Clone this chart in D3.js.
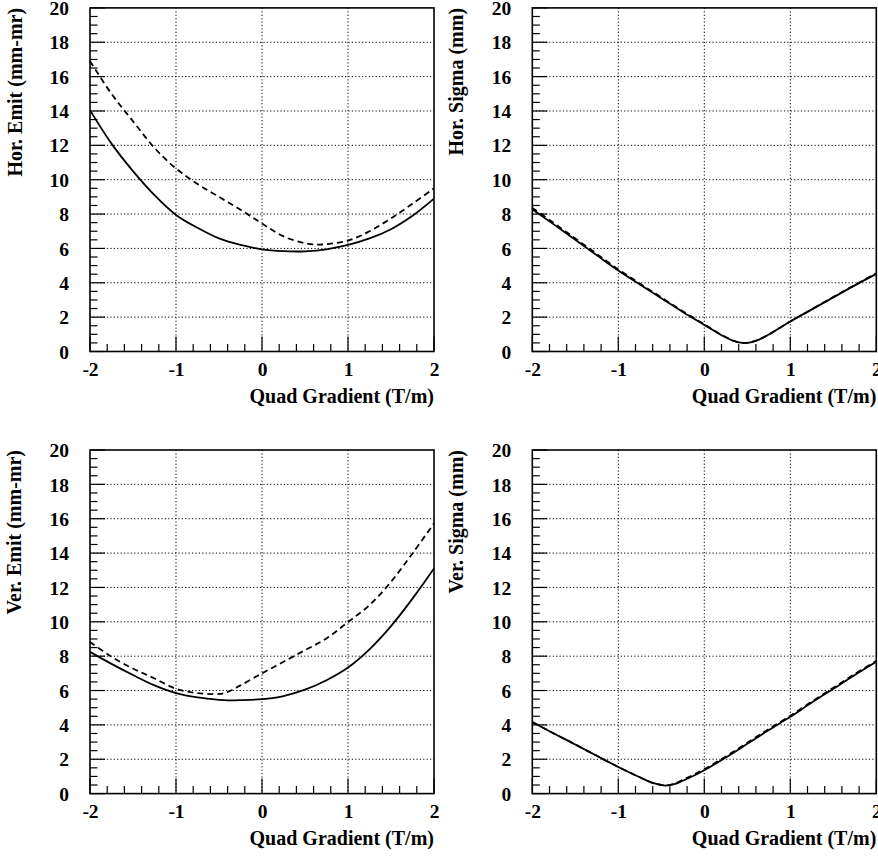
<!DOCTYPE html>
<html>
<head>
<meta charset="utf-8">
<script src="https://cdn.jsdelivr.net/npm/d3@7"></script>
<style>
  html, body { margin: 0; padding: 0; background: #fff; }
  svg { display: block; }
  text { font-family: "Liberation Serif", "Times New Roman", serif; font-weight: bold; fill: #000; }
</style>
</head>
<body>
<div id="chart"></div>
<script>
// ---------- data ----------
const xTicks = [-2, -1, 0, 1, 2];
const yTicks = [0, 2, 4, 6, 8, 10, 12, 14, 16, 18, 20];
const xTitle = "Quad Gradient (T/m)";

// Horizontal emittance (top-left)
const horEmitX      = [-2, -1.75, -1.5, -1.25, -1, -0.75, -0.5, -0.25, 0, 0.25, 0.4, 0.5, 0.75, 1, 1.25, 1.5, 1.75, 2];
const horEmitSolid  = [14.05, 12.1, 10.5, 9.1, 7.95, 7.2, 6.58, 6.2, 5.95, 5.84, 5.82, 5.83, 5.95, 6.2, 6.58, 7.12, 7.9, 8.9];
const horEmitDashX  = [-2, -1.75, -1.5, -1.25, -1, -0.75, -0.5, -0.25, 0, 0.25, 0.5, 0.65, 0.75, 1, 1.25, 1.5, 1.75, 2];
const horEmitDashed = [16.9, 15.0, 13.4, 11.85, 10.65, 9.75, 9.0, 8.25, 7.45, 6.7, 6.3, 6.22, 6.25, 6.45, 7.0, 7.75, 8.6, 9.5];

// Horizontal sigma (top-right)
const horSigX       = [-2, -1.75, -1.5, -1.25, -1, -0.75, -0.5, -0.25, 0, 0.2, 0.35, 0.45, 0.55, 0.7, 1, 1.25, 1.5, 1.75, 2];
const horSigSolid   = [8.28, 7.4, 6.5, 5.6, 4.71, 3.9, 3.1, 2.3, 1.55, 0.95, 0.6, 0.5, 0.55, 0.85, 1.75, 2.45, 3.15, 3.85, 4.52];
const horSigDashed  = [8.36, 7.48, 6.58, 5.68, 4.78, 3.96, 3.15, 2.34, 1.58, 0.97, 0.61, 0.5, 0.55, 0.85, 1.75, 2.46, 3.17, 3.87, 4.55];

// Vertical emittance (bottom-left)
const verEmitX      = [-2, -1.75, -1.5, -1.25, -1, -0.75, -0.5, -0.4, -0.25, 0, 0.25, 0.5, 0.75, 1, 1.25, 1.5, 1.75, 2];
const verEmitSolid  = [8.25, 7.55, 6.9, 6.3, 5.85, 5.6, 5.46, 5.43, 5.44, 5.5, 5.68, 6.05, 6.6, 7.34, 8.4, 9.75, 11.35, 13.1];
const verEmitDashed = [8.83, 7.96, 7.28, 6.7, 6.1, 5.85, 5.8, 5.92, 6.3, 7.0, 7.67, 8.35, 9.03, 9.99, 10.97, 12.33, 13.98, 15.73];

// Vertical sigma (bottom-right)
const verSigX       = [-2, -1.75, -1.5, -1.25, -1, -0.75, -0.6, -0.5, -0.45, -0.35, -0.25, -0.1, 0, 0.25, 0.5, 0.75, 1, 1.25, 1.5, 1.75, 2];
const verSigSolid   = [4.17, 3.5, 2.86, 2.2, 1.55, 0.95, 0.62, 0.5, 0.47, 0.55, 0.75, 1.1, 1.36, 2.1, 2.9, 3.7, 4.47, 5.3, 6.1, 6.9, 7.67];
const verSigDashed  = [4.17, 3.5, 2.86, 2.2, 1.55, 0.95, 0.62, 0.5, 0.47, 0.57, 0.8, 1.16, 1.42, 2.16, 2.96, 3.76, 4.53, 5.36, 6.16, 6.96, 7.73];

const panels = [
  { title: "Hor. Emit (mm-mr)",  xs: horEmitX, solid: horEmitSolid, dxs: horEmitDashX, dashed: horEmitDashed, left: 90,    top: 7.9,  ttlX: 21.5 },
  { title: "Hor. Sigma (mm)",    xs: horSigX,  solid: horSigSolid,  dxs: horSigX,      dashed: horSigDashed,  left: 532.3, top: 7.9,  ttlX: 463 },
  { title: "Ver. Emit (mm-mr)",  xs: verEmitX, solid: verEmitSolid, dxs: verEmitX,     dashed: verEmitDashed, left: 90,    top: 450,  ttlX: 21 },
  { title: "Ver. Sigma (mm)",    xs: verSigX,  solid: verSigSolid,  dxs: verSigX,      dashed: verSigDashed,  left: 532.3, top: 450,  ttlX: 463 }
];

// ---------- drawing ----------
const W = 878, H = 858;
const PW = 344, PH = 343.6;
const svg = d3.select("#chart").append("svg").attr("width", W).attr("height", H);
const fmt = d => String(d);

panels.forEach(p => {
  const g = svg.append("g").attr("transform", `translate(${p.left},${p.top})`);
  const x = d3.scaleLinear().domain([-2, 2]).range([0, PW]);
  const y = d3.scaleLinear().domain([0, 20]).range([PH, 0]);

  // grid
  g.append("g").selectAll("line").data(xTicks.filter(t => t > -2 && t < 2)).join("line")
    .attr("x1", d => x(d)).attr("x2", d => x(d)).attr("y1", 0).attr("y2", PH)
    .attr("stroke", "#000").attr("stroke-width", 1).attr("stroke-dasharray", "1.2,2.2");
  g.append("g").selectAll("line").data(yTicks.filter(t => t > 0 && t < 20)).join("line")
    .attr("x1", 0).attr("x2", PW).attr("y1", d => y(d)).attr("y2", d => y(d))
    .attr("stroke", "#000").attr("stroke-width", 1).attr("stroke-dasharray", "1.2,2.2");

  // minor / major ticks (inward)
  const xMinor = d3.range(-2, 2.0001, 0.2).map(v => +v.toFixed(2));
  g.append("g").selectAll("line").data(xMinor).join("line")
    .attr("x1", d => x(d)).attr("x2", d => x(d))
    .attr("y1", PH).attr("y2", d => PH - (Math.abs(d - Math.round(d)) < 1e-6 ? 15 : 7.5))
    .attr("stroke", "#000").attr("stroke-width", 1.2);
  const yMinor = d3.range(0, 20.0001, 0.5).map(v => +v.toFixed(2));
  g.append("g").selectAll("line").data(yMinor).join("line")
    .attr("y1", d => y(d)).attr("y2", d => y(d))
    .attr("x1", 0).attr("x2", d => (Math.abs(d / 2 - Math.round(d / 2)) < 1e-6 ? 15 : 7.5))
    .attr("stroke", "#000").attr("stroke-width", 1.2);

  // tick labels via axes
  const xAxis = d3.axisBottom(x).tickValues(xTicks).tickSize(0).tickPadding(0).tickFormat(fmt);
  const xa = g.append("g").attr("transform", `translate(0,${PH})`).call(xAxis);
  xa.select(".domain").remove();
  xa.selectAll("text").attr("y", 24).attr("dy", 0)
    .style("font-family", '"Liberation Serif", serif').style("font-weight", "bold").style("font-size", "19.5px").attr("fill", "#000");

  const yAxis = d3.axisLeft(y).tickValues(yTicks).tickSize(0).tickPadding(0).tickFormat(fmt);
  const ya = g.append("g").call(yAxis);
  ya.select(".domain").remove();
  ya.selectAll("text").attr("x", -21).attr("dy", "0.34em")
    .style("font-family", '"Liberation Serif", serif').style("font-weight", "bold").style("font-size", "19.5px").attr("fill", "#000");

  // curves
  const line = d3.line().x(d => x(d[0])).y(d => y(d[1])).curve(d3.curveCatmullRom.alpha(0.5));
  g.append("path").datum(p.dxs.map((v, i) => [v, p.dashed[i]]))
    .attr("d", line).attr("fill", "none").attr("stroke", "#000").attr("stroke-width", 1.8)
    .attr("stroke-dasharray", "6,4");
  g.append("path").datum(p.xs.map((v, i) => [v, p.solid[i]]))
    .attr("d", line).attr("fill", "none").attr("stroke", "#000").attr("stroke-width", 1.8);

  // frame
  g.append("rect").attr("x", 0).attr("y", 0).attr("width", PW).attr("height", PH)
    .attr("fill", "none").attr("stroke", "#000").attr("stroke-width", 1.6);

  // axis titles
  g.append("text").attr("x", PW).attr("y", PH + 51.5).attr("text-anchor", "end")
    .style("font-size", "20px").text(xTitle);
  svg.append("text")
    .attr("transform", `translate(${p.ttlX},${p.top}) rotate(-90)`)
    .attr("text-anchor", "end").style("font-size", "20px").text(p.title);
});
</script>
</body>
</html>
